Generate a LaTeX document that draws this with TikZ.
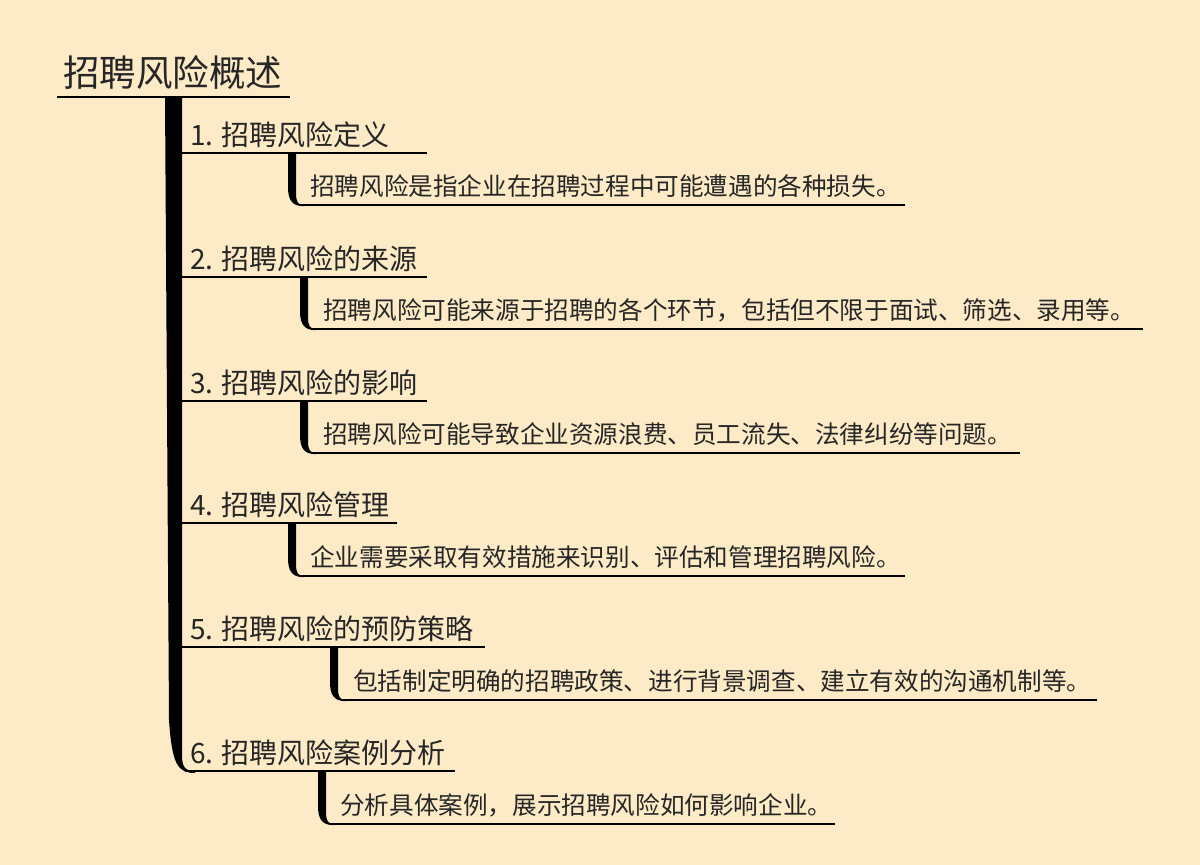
\documentclass[tikz,border=0pt]{standalone}
\usepackage{fontspec}
\newfontfamily\cjk{Noto Sans CJK SC}
\definecolor{bg}{HTML}{FDEBC8}
\begin{document}
\begin{tikzpicture}[x=1pt,y=-1pt,
  root/.style={font=\cjk\fontsize{36.5}{38}\selectfont,anchor=south west,inner sep=0,text=black!85},
  child/.style={font=\cjk\fontsize{28}{30}\selectfont,anchor=south west,inner sep=0,text=black!85},
  leaf/.style={font=\cjk\fontsize{24.6}{26}\selectfont,anchor=south west,inner sep=0,text=black!85},
  uline/.style={line width=1.6pt,black}]
\fill[bg] (0,0) rectangle (1200,865);
\node[root] (r) at (63,90) {招聘风险概述};
\draw[uline] (57,97) -- (290,97);
% trunk
\fill (165,97) -- (182,97) -- (182,755) .. controls (182,767) and (185,771) .. (195,771) -- (195,773) .. controls (178,773) and (172,765) .. (169,720) -- cycle;
\newcommand\mybr[4]{% x, top y, bottom y, line end
  \fill (#1,#2) -- (#1+8,#2) -- (#1+8,#3-12) .. controls (#1+8,#3-3) and (#1+10,#3) .. (#1+16,#3) -- (#1+16,#3+1.2) .. controls (#1+4,#3+1.2) and (#1,#3-5) .. (#1,#3-18) -- cycle;
  \draw[uline] (#1+12,#3) -- (#4,#3);}
\node[child] (c1) at (190,148) {1. 招聘风险定义};
\draw[uline] (180,153) -- (427,153);
\node[leaf] (l1) at (310,198) {招聘风险是指企业在招聘过程中可能遭遇的各种损失。};
\mybr{288}{153}{205}{905}
\node[child] (c2) at (190,272) {2. 招聘风险的来源};
\draw[uline] (180,277) -- (427,277);
\node[leaf] (l2) at (323,322) {招聘风险可能来源于招聘的各个环节，包括但不限于面试、筛选、录用等。};
\mybr{300}{277}{329}{1143}
\node[child] (c3) at (190,396) {3. 招聘风险的影响};
\draw[uline] (180,401) -- (427,401);
\node[leaf] (l3) at (323,446) {招聘风险可能导致企业资源浪费、员工流失、法律纠纷等问题。};
\mybr{300}{401}{453}{1020}
\node[child] (c4) at (190,518) {4. 招聘风险管理};
\draw[uline] (180,523) -- (397,523);
\node[leaf] (l4) at (310,569) {企业需要采取有效措施来识别、评估和管理招聘风险。};
\mybr{288}{523}{576}{905}
\node[child] (c5) at (190,642) {5. 招聘风险的预防策略};
\draw[uline] (180,647) -- (485,647);
\node[leaf] (l5) at (353,693) {包括制定明确的招聘政策、进行背景调查、建立有效的沟通机制等。};
\mybr{330}{647}{700}{1097}
\node[child] (c6) at (190,766) {6. 招聘风险案例分析};
\draw[uline] (185,771) -- (455,771);
\node[leaf] (l6) at (340,817) {分析具体案例，展示招聘风险如何影响企业。};
\mybr{318}{771}{824}{835}
\end{tikzpicture}
\end{document}
